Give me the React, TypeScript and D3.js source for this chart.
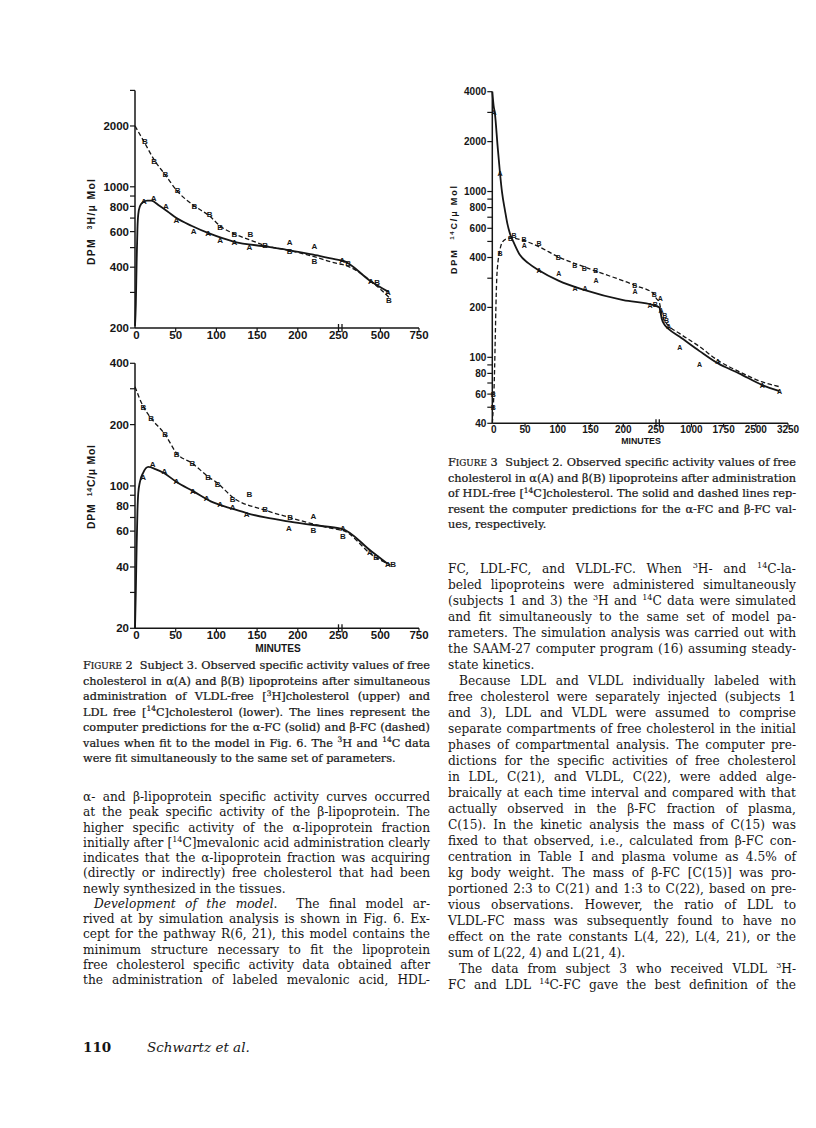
import * as d3 from "d3";
import React, { useLayoutEffect, useRef } from "react";

type Pt = [number, number];

// ---------- Figure 2, upper panel: 3H (DPM 3H / uMol) ----------
const h3AlphaFit: Pt[] = [[0, 205], [1, 260], [2, 420], [3, 620], [4, 730], [6, 800], [10, 840], [15, 855], [20, 855], [30, 805], [40, 755], [51, 700], [70, 640], [92, 586], [121, 536], [162, 505], [190, 485], [219, 461], [250, 435], [251, 432], [439, 340], [555, 301]];
const h3BetaFit: Pt[] = [[0, 2000], [12, 1646], [23.4, 1363], [37, 1148], [52.5, 946], [73, 804], [92, 714], [104.5, 640], [122, 585], [141, 546], [160, 512], [190, 484], [219, 452], [250, 416], [251, 413], [460, 331], [555, 284]];
const h3AlphaObs: Pt[] = [[11, 846], [23, 877], [38, 798], [51, 686], [72, 600], [90, 590], [104.5, 546], [122, 534], [140.6, 503], [190, 532], [220.5, 506], [252, 432], [438, 343], [548, 301]];
const h3BetaObs: Pt[] = [[12, 1674], [23.4, 1346], [37.3, 1158], [52.5, 958], [73, 804], [91.8, 730], [104.5, 634], [122, 582], [141.8, 580], [160, 512], [190, 480], [220.5, 430], [290, 419], [478, 336], [555, 276]];

// ---------- Figure 2, lower panel: 14C ----------
const c14AlphaFit: Pt[] = [[0, 20], [1, 30], [2, 50], [3, 75], [4, 92], [6, 104.5], [10, 116], [16.4, 124], [25, 121], [35, 116], [51, 104.6], [72, 94], [96, 83], [121, 77], [137, 73.6], [160, 70], [190, 66.8], [219, 64.3], [250, 62], [251, 61.6], [439, 47.9], [544, 41.6]];
const c14BetaFit: Pt[] = [[0, 307], [10.2, 245], [19.7, 215], [36.9, 179], [51, 145], [70.5, 129], [90, 111], [101.6, 103], [120, 88], [160, 76], [190, 70], [219, 65], [250, 61], [251, 60.6], [460, 45], [565, 41]];
const c14AlphaObs: Pt[] = [[10, 110.6], [21.7, 128.6], [36, 117.8], [51, 105], [71, 94.6], [88, 87.4], [104.5, 81], [120, 78.5], [137, 72.8], [189, 62], [219, 70.8], [256, 62], [432, 47.4], [548, 41.4]];
const c14BetaObs: Pt[] = [[10.2, 245], [19.7, 215], [36.9, 179], [51.2, 143], [70.5, 129], [90, 111], [101.6, 102], [120, 86], [140.6, 91], [160, 76.6], [190.6, 70], [219, 60.6], [256, 56.4], [472, 44.9], [582, 41.4]];

// ---------- Figure 3: subject 2, HDL 14C ----------
const s2AlphaFit: Pt[] = [[0, 4000], [2, 3300], [4, 2950], [8, 1900], [11.8, 1285], [15, 980], [19.4, 767], [23, 640], [27, 557], [33, 490], [42, 415], [55, 370], [71, 335], [101, 290], [141.5, 254], [200, 221], [247, 206], [250, 204], [251, 200], [277, 188], [305, 172], [381, 156], [458, 149], [728, 133], [1189, 109], [1612, 92], [2110, 80], [2650, 68], [3052, 62.5]];
const s2BetaFit: Pt[] = [[0, 40], [1.5, 50], [2.5, 62], [3.5, 85], [4.5, 130], [5.5, 200], [6.7, 292], [8.5, 370], [10.7, 424], [14.4, 487], [20, 515], [28.6, 525], [48.4, 505], [71, 465], [101, 403], [140.5, 351], [158, 331], [217.5, 272], [247.5, 240], [250, 228], [251, 215], [277, 200], [342, 172], [458, 156], [728, 139], [1189, 116], [1612, 96], [2110, 82], [2650, 71], [3052, 66.5]];
const s2AlphaObs: Pt[] = [[2.6, 3000], [11.7, 1285], [48.9, 470], [71.3, 332], [101.4, 320], [126.3, 260], [141.6, 260], [158.4, 292], [218, 248], [241, 206], [275, 226], [290, 192], [470, 154], [728, 114], [1189, 90.7], [1612, 94], [2650, 67.4], [3052, 62.6]];
const s2BetaObs: Pt[] = [[1.5, 50], [1.5, 60], [11.7, 424], [28, 520], [33, 545], [48.4, 513], [71.3, 486], [100.8, 400], [125.8, 356], [140.5, 344], [158, 336], [217.5, 272], [247.5, 240], [249, 207], [380, 178], [420, 166]];

// ---------- axes ----------
const fig2H3Major = [200, 400, 600, 800, 1000, 2000];
const fig2H3Minor = [300, 500, 700, 900, 3000];
const fig2C14Major = [20, 40, 60, 80, 100, 200, 400];
const fig2C14Minor = [30, 50, 70, 90, 300];
const fig3Major = [40, 60, 80, 100, 200, 400, 600, 800, 1000, 2000, 4000];
const fig3Minor = [50, 70, 90, 300, 500, 700, 900, 3000];
const fig2XTicks = [0, 50, 100, 150, 200, 250, 500, 750];
const fig3XTicks = [0, 50, 100, 150, 200, 250, 1000, 1750, 2500, 3250];

// ---------- text ----------
const fig2Caption = [
  "F~{IGURE} 2  Subject 3. Observed specific activity values of free",
  "cholesterol in α(A) and β(B) lipoproteins after simultaneous",
  "administration of VLDL-free [^{3}H]cholesterol (upper) and",
  "LDL free [^{14}C]cholesterol (lower). The lines represent the",
  "computer predictions for the α-FC (solid) and β-FC (dashed)",
  "values when fit to the model in Fig. 6. The ^{3}H and ^{14}C data",
  "were fit simultaneously to the same set of parameters.\n",
];
const fig3Caption = [
  "F~{IGURE} 3  Subject 2. Observed specific activity values of free",
  "cholesterol in α(A) and β(B) lipoproteins after administration",
  "of HDL-free [^{14}C]cholesterol. The solid and dashed lines rep-",
  "resent the computer predictions for the α-FC and β-FC val-",
  "ues, respectively.\n",
];
const leftBody = [
  "α- and β-lipoprotein specific activity curves occurred",
  "at the peak specific activity of the β-lipoprotein. The",
  "higher specific activity of the α-lipoprotein fraction",
  "initially after [^{14}C]mevalonic acid administration clearly",
  "indicates that the α-lipoprotein fraction was acquiring",
  "(directly or indirectly) free cholesterol that had been",
  "newly synthesized in the tissues.\n",
  "\t*Development of the model*.  The final model ar-",
  "rived at by simulation analysis is shown in Fig. 6. Ex-",
  "cept for the pathway R(6, 21), this model contains the",
  "minimum structure necessary to fit the lipoprotein",
  "free cholesterol specific activity data obtained after",
  "the administration of labeled mevalonic acid, HDL-",
];
const rightBody = [
  "FC, LDL-FC, and VLDL-FC. When ^{3}H- and ^{14}C-la-",
  "beled lipoproteins were administered simultaneously",
  "(subjects 1 and 3) the ^{3}H and ^{14}C data were simulated",
  "and fit simultaneously to the same set of model pa-",
  "rameters. The simulation analysis was carried out with",
  "the SAAM-27 computer program (16) assuming steady-",
  "state kinetics.\n",
  "\tBecause LDL and VLDL individually labeled with",
  "free cholesterol were separately injected (subjects 1",
  "and 3), LDL and VLDL were assumed to comprise",
  "separate compartments of free cholesterol in the initial",
  "phases of compartmental analysis. The computer pre-",
  "dictions for the specific activities of free cholesterol",
  "in LDL, C(21), and VLDL, C(22), were added alge-",
  "braically at each time interval and compared with that",
  "actually observed in the β-FC fraction of plasma,",
  "C(15). In the kinetic analysis the mass of C(15) was",
  "fixed to that observed, i.e., calculated from β-FC con-",
  "centration in Table I and plasma volume as 4.5% of",
  "kg body weight. The mass of β-FC [C(15)] was pro-",
  "portioned 2:3 to C(21) and 1:3 to C(22), based on pre-",
  "vious observations. However, the ratio of LDL to",
  "VLDL-FC mass was subsequently found to have no",
  "effect on the rate constants L(4, 22), L(4, 21), or the",
  "sum of L(22, 4) and L(21, 4).\n",
  "\tThe data from subject 3 who received VLDL ^{3}H-",
  "FC and LDL ^{14}C-FC gave the best definition of the",
];

const INK = "#161616";
const SERIF = "'DejaVu Serif', 'Liberation Serif', serif";
const SANS = "'Liberation Sans', Arial, sans-serif";

function parseMarkup(s: string) {
  const re = /(\^\{[^}]*\}|~\{[^}]*\}|\*[^*]+\*)/g;
  return s.split(re).filter((p) => p !== "").map((p) => {
    if (p.startsWith("^{")) return { t: p.slice(2, -1), kind: "sup" };
    if (p.startsWith("~{")) return { t: p.slice(2, -1), kind: "sc" };
    if (p.startsWith("*") && p.endsWith("*") && p.length > 1) return { t: p.slice(1, -1), kind: "it" };
    return { t: p, kind: "n" };
  });
}

function Runs({ s, fs }: { s: string; fs: number }) {
  const parts = parseMarkup(s);
  const lift = fs * 0.38;
  let raised = false;
  return (
    <>
      {parts.map((p, i) => {
        if (p.kind === "sup") {
          raised = true;
          return <tspan key={i} fontSize={fs * 0.66} dy={-lift}>{p.t}</tspan>;
        }
        const dy = raised ? lift : undefined;
        raised = false;
        if (p.kind === "sc") return <tspan key={i} dy={dy} fontSize={fs * 0.78}>{p.t}</tspan>;
        if (p.kind === "it") return <tspan key={i} dy={dy} fontStyle="italic">{p.t}</tspan>;
        return <tspan key={i} dy={dy}>{p.t}</tspan>;
      })}
    </>
  );
}

// one line of running text; justified lines get their word spacing measured
function TextLine({ s, x, y, width, fs, justify }: { s: string; x: number; y: number; width: number; fs: number; justify: boolean }) {
  const ref = useRef<SVGTextElement>(null);
  useLayoutEffect(() => {
    const fit = () => {
      const el = ref.current;
      if (!el || !justify) return;
      el.setAttribute("word-spacing", "0");
      const len = el.getComputedTextLength();
      const spaces = ((el.textContent || "").match(/ /g) || []).length;
      if (spaces > 0) el.setAttribute("word-spacing", String((width - len) / spaces));
    };
    fit();
    if ((document as any).fonts) (document as any).fonts.ready.then(fit);
  }, [s, width, fs, justify]);
  return (
    <text ref={ref} x={x} y={y} style={{ whiteSpace: "pre" }}>
      <Runs s={s} fs={fs} />
    </text>
  );
}

function TextBlock({ lines, x, y, step, width, fs, bold }: { lines: string[]; x: number; y: number; step: number; width: number; fs: number; bold?: boolean }) {
  return (
    <g fontFamily={SERIF} fontSize={fs} fill={INK} stroke={bold ? INK : "none"} strokeWidth={bold ? 0.22 : 0}>
      {lines.map((raw, i) => {
        const indent = raw.startsWith("\t") ? 11 : 0;
        const last = raw.endsWith("\n");
        const s = raw.replace(/^\t/, "").replace(/\n$/, "");
        return <TextLine key={i} s={s} x={x + indent} y={y + i * step} width={width - indent} fs={fs} justify={!last} />;
      })}
    </g>
  );
}

type PanelProps = {
  xd: number[]; xr: number[]; yd: [number, number]; yr: [number, number];
  major: number[]; minor: number[]; xTicks: number[];
  alphaFit: Pt[]; betaFit: Pt[]; alphaObs: Pt[]; betaObs: Pt[];
  iso: string; isoSup: string; labelX: number; labelY: number; labelLen: number;
  tickFs: number; markFs: number; minutes?: [number, number];
};

function Panel(p: PanelProps) {
  const x = d3.scaleLinear().domain(p.xd).range(p.xr);
  const y = d3.scaleLog().domain(p.yd).range(p.yr);
  const line = d3.line<Pt>().x((d) => x(d[0])).y((d) => y(d[1])).curve(d3.curveMonotoneX);
  const x0 = p.xr[0];
  const x1 = p.xr[p.xr.length - 1];
  const yb = y(p.yd[0]);
  const yt = y(p.yd[1]);
  const b1 = x(250);
  const b2 = x(251);
  return (
    <g>
      {/* axes */}
      <line x1={x0} x2={x0} y1={yb} y2={yt} stroke={INK} strokeWidth={1.5} />
      <line x1={x0} x2={x1} y1={yb} y2={yb} stroke={INK} strokeWidth={1.5} />
      {[b1, b2].map((bx, i) => (
        <line key={i} x1={bx} x2={bx} y1={yb - 4} y2={yb + 4} stroke={INK} strokeWidth={1.3} />
      ))}
      {p.major.concat(p.minor).map((v) => (
        <line key={"yt" + v} x1={x0 - 5} x2={x0} y1={y(v)} y2={y(v)} stroke={INK} strokeWidth={1.2} />
      ))}
      {p.xTicks.filter((v) => v !== 0 && v !== 250).map((v) => (
        <line key={"xt" + v} x1={x(v)} x2={x(v)} y1={yb} y2={yb + 4} stroke={INK} strokeWidth={1.2} />
      ))}
      <g fontFamily={SANS} fontWeight={700} fontSize={p.tickFs} fill={INK}>
        {p.major.map((v) => (
          <text key={"yl" + v} x={x0 - 6} y={y(v)} dy="0.36em" textAnchor="end">{v}</text>
        ))}
        {p.xTicks.map((v) => (
          <text key={"xl" + v} x={x(v) + (v === 0 ? 1.5 : 0)} y={yb + p.tickFs * 0.95} textAnchor="middle">{v}</text>
        ))}
        {p.minutes && (
          <text x={p.minutes[0]} y={p.minutes[1]} textAnchor="middle" fontSize={p.tickFs * 0.88}>MINUTES</text>
        )}
        <text transform={`translate(${p.labelX},${p.labelY}) rotate(-90)`} textAnchor="middle" fontSize={p.tickFs * 0.9}
          textLength={p.labelLen} lengthAdjust="spacing" style={{ whiteSpace: "pre" }}>
          <tspan>DPM  </tspan>
          <tspan fontSize={p.tickFs * 0.6} dy={-3}>{p.isoSup}</tspan>
          <tspan dy={3}>{p.iso}/μ Mol</tspan>
        </text>
      </g>
      {/* model curves */}
      <path d={line(p.alphaFit) || ""} fill="none" stroke={INK} strokeWidth={1.8} />
      <path d={line(p.betaFit) || ""} fill="none" stroke={INK} strokeWidth={1.3} strokeDasharray="4.5,2.5" />
      {/* observations */}
      <g fontFamily={SANS} fontWeight={700} fontSize={p.markFs} fill={INK} textAnchor="middle">
        {p.alphaObs.map((d, i) => (
          <text key={"a" + i} x={x(d[0])} y={y(d[1])} dy="0.36em">A</text>
        ))}
        {p.betaObs.map((d, i) => (
          <text key={"b" + i} x={x(d[0])} y={y(d[1])} dy="0.36em">B</text>
        ))}
      </g>
    </g>
  );
}

export default function App() {
  return (
    <svg width={816} height={1128} viewBox="0 0 816 1128"
      style={{ position: "absolute", left: 0, top: 0, background: "#fff" }}>
      <rect width={816} height={1128} fill="#fff" />
      <Panel xd={[0, 250, 251, 750]} xr={[135, 338.5, 342, 419]} yd={[200, 3000]} yr={[328, 90.4]}
        major={fig2H3Major} minor={fig2H3Minor} xTicks={fig2XTicks}
        alphaFit={h3AlphaFit} betaFit={h3BetaFit} alphaObs={h3AlphaObs} betaObs={h3BetaObs}
        iso="H" isoSup="3" labelX={95} labelY={222} labelLen={86} tickFs={11.5} markFs={8} />
      <Panel xd={[0, 250, 251, 750]} xr={[135, 338.5, 342, 419]} yd={[20, 400]} yr={[628.3, 363.3]}
        major={fig2C14Major} minor={fig2C14Minor} xTicks={fig2XTicks}
        alphaFit={c14AlphaFit} betaFit={c14BetaFit} alphaObs={c14AlphaObs} betaObs={c14BetaObs}
        iso="C" isoSup="14" labelX={95} labelY={487} labelLen={84} tickFs={11.5} markFs={8}
        minutes={[278, 652]} />
      <Panel xd={[0, 250, 251, 3250]} xr={[492.3, 656, 659.3, 788]} yd={[40, 4000]} yr={[423.3, 91.7]}
        major={fig3Major} minor={fig3Minor} xTicks={fig3XTicks}
        alphaFit={s2AlphaFit} betaFit={s2BetaFit} alphaObs={s2AlphaObs} betaObs={s2BetaObs}
        iso="C" isoSup="14" labelX={457} labelY={230} labelLen={88} tickFs={10} markFs={7}
        minutes={[641, 443.5]} />

      <TextBlock lines={fig2Caption} x={83} y={669} step={15.5} width={347} fs={11.3} bold />
      <TextBlock lines={fig3Caption} x={448} y={466} step={15.5} width={348} fs={11.3} bold />
      <TextBlock lines={leftBody} x={83} y={801} step={15.25} width={347} fs={12.2} />
      <TextBlock lines={rightBody} x={448} y={573} step={16} width={348} fs={12.2} />

      <text x={83} y={1052} fontFamily={SERIF} fontSize={13.5} fontWeight={700} fill={INK}>110</text>
      <text x={147} y={1052} fontFamily={SERIF} fontSize={13.5} fontStyle="italic" fill={INK}>Schwartz et al.</text>
    </svg>
  );
}
